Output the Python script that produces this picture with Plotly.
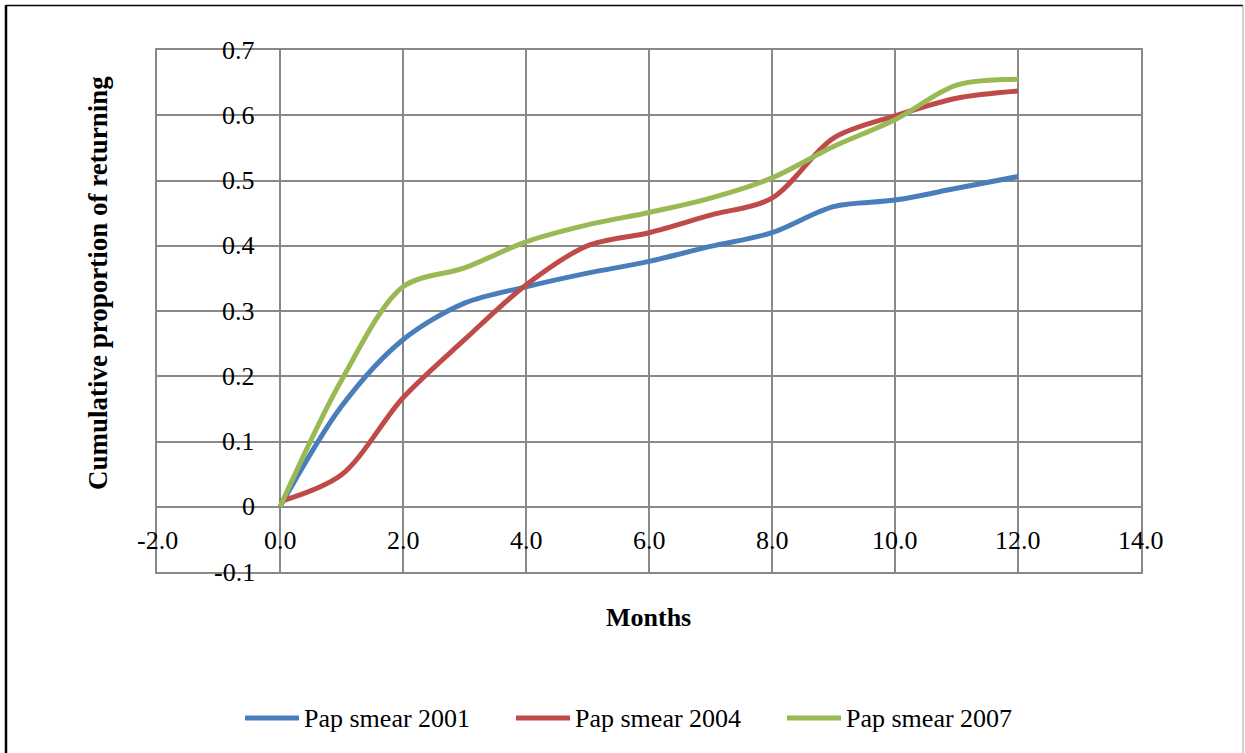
import plotly.graph_objects as go

# Cumulative proportion returning for a repeat Pap smear, by month of follow-up
months = [0, 1, 2, 3, 4, 5, 6, 7, 8, 9, 10, 11, 12]
pap_2001 = [0.0, 0.154, 0.256, 0.312, 0.337, 0.358, 0.376, 0.399, 0.420, 0.460, 0.470, 0.488, 0.506]
pap_2004 = [0.008, 0.049, 0.167, 0.256, 0.340, 0.400, 0.420, 0.447, 0.473, 0.565, 0.599, 0.626, 0.637]
pap_2007 = [0.0, 0.194, 0.337, 0.366, 0.406, 0.432, 0.451, 0.473, 0.504, 0.552, 0.593, 0.646, 0.655]

series_names = ["Pap smear 2001", "Pap smear 2004", "Pap smear 2007"]
series_values = [pap_2001, pap_2004, pap_2007]
series_colors = ["#4A7EBB", "#BE4B48", "#98B954"]

x_tick_values = [-2, 0, 2, 4, 6, 8, 10, 12, 14]
x_tick_labels = ["-2.0", "0.0", "2.0", "4.0", "6.0", "8.0", "10.0", "12.0", "14.0"]
y_tick_values = [0.7, 0.6, 0.5, 0.4, 0.3, 0.2, 0.1, 0, -0.1]
y_tick_labels = ["0.7", "0.6", "0.5", "0.4", "0.3", "0.2", "0.1", "0", "-0.1"]

W, H = 1245, 753
ML, MR, MT, MB = 157, 104, 50, 181
PW, PH = W - ML - MR, H - MT - MB

FONT = "Liberation Serif, Times New Roman, serif"
GRID = "#898989"


def px_x(px):
    return (px - ML) / PW


def px_y(py):
    return (H - MB - py) / PH


fig = go.Figure()
for name, vals, col in zip(series_names, series_values, series_colors):
    fig.add_trace(go.Scatter(
        x=months, y=vals, name=name, mode="lines",
        line=dict(color=col, width=5, shape="spline", smoothing=0.9),
        showlegend=False,
    ))

annotations = []
# Tick labels sit beside the axes that cross at zero
for v, t in zip(x_tick_values, x_tick_labels):
    annotations.append(dict(x=v, y=0, xref="x", yref="y", text=t, showarrow=False,
                            xanchor="center", yanchor="middle", yshift=-34,
                            font=dict(family=FONT, size=26, color="black")))
for v, t in zip(y_tick_values, y_tick_labels):
    annotations.append(dict(x=0, y=v, xref="x", yref="y", text=t, showarrow=False,
                            xanchor="right", yanchor="middle", xshift=-23,
                            font=dict(family=FONT, size=26, color="black")))

# Axis titles
annotations.append(dict(x=px_x(648), y=px_y(617), xref="paper", yref="paper",
                        text="<b>Months</b>", showarrow=False,
                        xanchor="center", yanchor="middle",
                        font=dict(family=FONT, size=26, color="black")))
annotations.append(dict(x=px_x(98), y=px_y(283), xref="paper", yref="paper",
                        text="<b>Cumulative proportion of returning</b>", showarrow=False,
                        textangle=-90, xanchor="center", yanchor="middle",
                        font=dict(family=FONT, size=27, color="black")))

shapes = []
# Legend row along the bottom
legend_y = px_y(718)
item_start = 245
item_pitch = 271
for i, (name, col) in enumerate(zip(series_names, series_colors)):
    x0 = item_start + i * item_pitch
    shapes.append(dict(type="line", xref="paper", yref="paper",
                       x0=px_x(x0), x1=px_x(x0 + 54), y0=legend_y, y1=legend_y,
                       line=dict(color=col, width=5)))
    annotations.append(dict(x=px_x(x0 + 57), y=legend_y, xref="paper", yref="paper",
                            text=name, showarrow=False, xanchor="left", yanchor="middle",
                            font=dict(family=FONT, size=26, color="black")))

# Outer chart frame
shapes.append(dict(type="line", xref="paper", yref="paper",
                   x0=px_x(6), x1=px_x(6), y0=px_y(5), y1=px_y(760),
                   line=dict(color="black", width=2.5)))
shapes.append(dict(type="line", xref="paper", yref="paper",
                   x0=px_x(6), x1=px_x(1243), y0=px_y(5.5), y1=px_y(5.5),
                   line=dict(color="black", width=1.5)))
shapes.append(dict(type="line", xref="paper", yref="paper",
                   x0=px_x(1243), x1=px_x(1243), y0=px_y(5), y1=px_y(760),
                   line=dict(color="#a0a0a0", width=1)))

fig.update_layout(
    width=W, height=H,
    margin=dict(l=ML, r=MR, t=MT, b=MB),
    paper_bgcolor="white", plot_bgcolor="white",
    font=dict(family=FONT, size=26, color="black"),
    annotations=annotations,
    shapes=shapes,
    showlegend=False,
)
fig.update_xaxes(range=[-2, 14], tickvals=x_tick_values, showticklabels=False,
                 showgrid=True, gridcolor=GRID, gridwidth=1.5,
                 showline=True, linecolor=GRID, linewidth=1.5, mirror=True,
                 zeroline=False, ticks="")
fig.update_yaxes(range=[-0.1, 0.7], tickvals=y_tick_values, showticklabels=False,
                 showgrid=True, gridcolor=GRID, gridwidth=1.5,
                 showline=True, linecolor=GRID, linewidth=1.5, mirror=True,
                 zeroline=False, ticks="")

fig.write_html("out.html")
